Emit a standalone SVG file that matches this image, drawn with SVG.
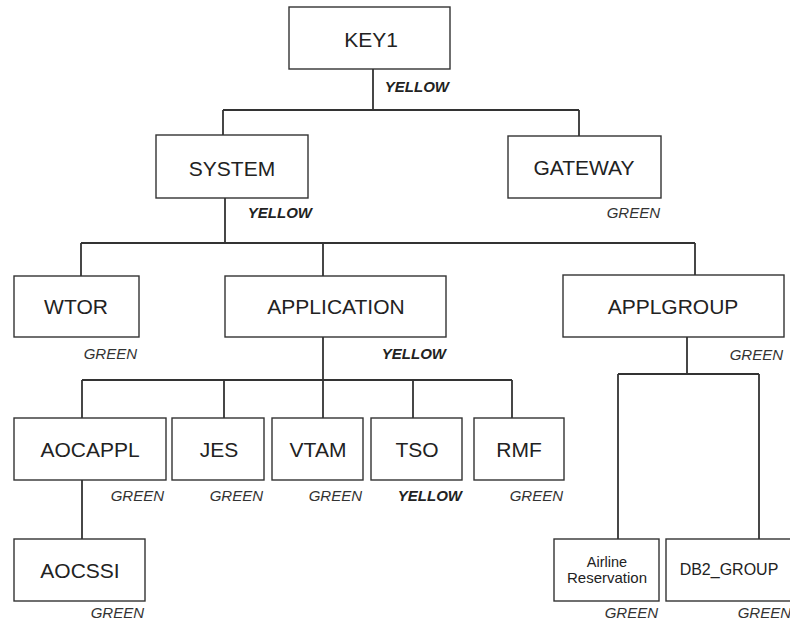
<svg xmlns="http://www.w3.org/2000/svg" width="790" height="622" viewBox="0 0 790 622">
<style>
.box{fill:#fff;stroke:#333;stroke-width:1.4}
.lbl{font-family:"Liberation Sans",Arial,sans-serif;font-size:21px;fill:#222;text-anchor:middle}
.sm{font-family:"Liberation Sans",Arial,sans-serif;font-size:15px;fill:#222;text-anchor:middle}
.g{font-family:"Liberation Sans",Arial,sans-serif;font-size:15px;font-style:italic;fill:#333;text-anchor:end}
.y{font-family:"Liberation Sans",Arial,sans-serif;font-size:15px;font-style:italic;font-weight:bold;fill:#222;text-anchor:end}
.c{fill:none;stroke:#333;stroke-width:1.8}
</style>
<rect width="790" height="622" fill="#fff"/>
<g id="connectors">
<path class="c" d="M373 69V110M223 110H579M223 110V135M579 110V136"/>
<path class="c" d="M225 198V243M81 243H695M81 243V276M323 243V276M695 243V275"/>
<path class="c" d="M323 337V380M82 380H512M82 380V418M224 380V418M323 380V418M413 380V418M512 380V418"/>
<path class="c" d="M82 480V539"/>
<path class="c" d="M687 337V374M618 374H759M618 374V539M759 374V539"/>
</g>
<g id="KEY1"><rect class="box" x="289" y="7" width="161" height="62"/><text class="lbl" x="371" y="47">KEY1</text><text class="y" x="449" y="92">YELLOW</text></g>
<g id="SYSTEM"><rect class="box" x="156" y="135" width="152" height="63"/><text class="lbl" x="232" y="176">SYSTEM</text><text class="y" x="312" y="218">YELLOW</text></g>
<g id="GATEWAY"><rect class="box" x="508" y="136" width="153" height="62"/><text class="lbl" x="584" y="175">GATEWAY</text><text class="g" x="660" y="218">GREEN</text></g>
<g id="WTOR"><rect class="box" x="14" y="276" width="125" height="61"/><text class="lbl" x="76" y="314">WTOR</text><text class="g" x="137" y="359">GREEN</text></g>
<g id="APPLICATION"><rect class="box" x="225" y="276" width="221" height="61"/><text class="lbl" x="336" y="314">APPLICATION</text><text class="y" x="446" y="359">YELLOW</text></g>
<g id="APPLGROUP"><rect class="box" x="563" y="275" width="221" height="62"/><text class="lbl" x="673" y="314">APPLGROUP</text><text class="g" x="783" y="360">GREEN</text></g>
<g id="AOCAPPL"><rect class="box" x="14" y="418" width="152" height="62"/><text class="lbl" x="90" y="457">AOCAPPL</text><text class="g" x="164" y="501">GREEN</text></g>
<g id="JES"><rect class="box" x="172" y="418" width="92" height="62"/><text class="lbl" x="219" y="457">JES</text><text class="g" x="263" y="501">GREEN</text></g>
<g id="VTAM"><rect class="box" x="272" y="418" width="91" height="62"/><text class="lbl" x="318" y="457">VTAM</text><text class="g" x="362" y="501">GREEN</text></g>
<g id="TSO"><rect class="box" x="371" y="418" width="91" height="62"/><text class="lbl" x="417" y="457">TSO</text><text class="y" x="462" y="501">YELLOW</text></g>
<g id="RMF"><rect class="box" x="474" y="418" width="90" height="62"/><text class="lbl" x="519" y="457">RMF</text><text class="g" x="563" y="501">GREEN</text></g>
<g id="AOCSSI"><rect class="box" x="14" y="539" width="131" height="62"/><text class="lbl" x="80" y="578">AOCSSI</text><text class="g" x="144" y="618">GREEN</text></g>
<g id="AirlineReservation"><rect class="box" x="554" y="539" width="105" height="62"/><text class="sm" x="607" y="567" style="font-size:14.5px">Airline</text><text class="sm" x="607" y="583" style="font-size:15px">Reservation</text><text class="g" x="658" y="618">GREEN</text></g>
<g id="DB2_GROUP"><rect class="box" x="666" y="539" width="127" height="62"/><text class="sm" x="729" y="575" style="font-size:16px">DB2_GROUP</text><text class="g" x="791" y="618">GREEN</text></g>
</svg>
